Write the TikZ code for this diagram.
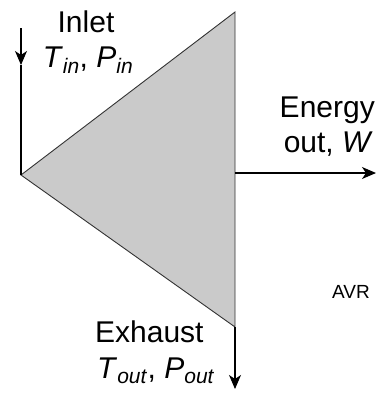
\documentclass[tikz,border=0pt]{standalone}
\usepackage{fontspec}
\setmainfont{Liberation Sans}
\usetikzlibrary{arrows.meta, positioning}
\definecolor{bladegray}{RGB}{202,202,202}

\begin{document}
\begin{tikzpicture}[x=1bp, y=-1bp,
        lbl/.style={inner sep=0pt, anchor=base, font=\fontsize{30bp}{35bp}\selectfont},
        flow/.style={line width=1.2bp, -{Stealth[length=14bp, width=12bp, inset=4bp]}}]
        \useasboundingbox (0,0) rectangle (379,394);

        % turbine stage
        \coordinate (apex) at (21,175);
        \coordinate (top) at (235,12);
        \coordinate (bot) at (235,327);
        \filldraw[fill=bladegray, draw=black!80, line width=0.9bp] (apex) -- (top) -- (bot) -- cycle;

        % inlet
        \coordinate (inl) at (21,28);
        \coordinate (inm) at (21,65);
        \draw[flow] (inl) -- (inm);
        \draw[line width=1.2bp] (inm) -- (apex);
        \node[lbl] (inlet) at (86,32) {Inlet};
        \node[lbl] (tin) at (88,67) {\textit{T}\textsubscript{\textit{in}}, \textit{P}\textsubscript{\textit{in}}};

        % work out
        \coordinate (wrk) at (235,173);
        \coordinate (wend) at (376,173);
        \draw[flow] (wrk) -- (wend);
        \node[lbl, anchor=base east] (energy) at (375,117) {Energy};
        \node[lbl, anchor=base east] (wout) at (373,152) {out, \textit{W}};

        % exhaust
        \coordinate (exend) at (235,389);
        \draw[flow] (bot) -- (exend);
        \node[lbl, anchor=base west] (exh) at (95,342) {Exhaust};
        \node[lbl, anchor=base west] (tout) at (97,378) {\textit{T}\textsubscript{\textit{out}}, \textit{P}\textsubscript{\textit{out}}};

        \node[lbl, anchor=base west, font=\fontsize{19bp}{22bp}\selectfont] (avr) at (332,298) {AVR};
    \end{tikzpicture}
\end{document}
